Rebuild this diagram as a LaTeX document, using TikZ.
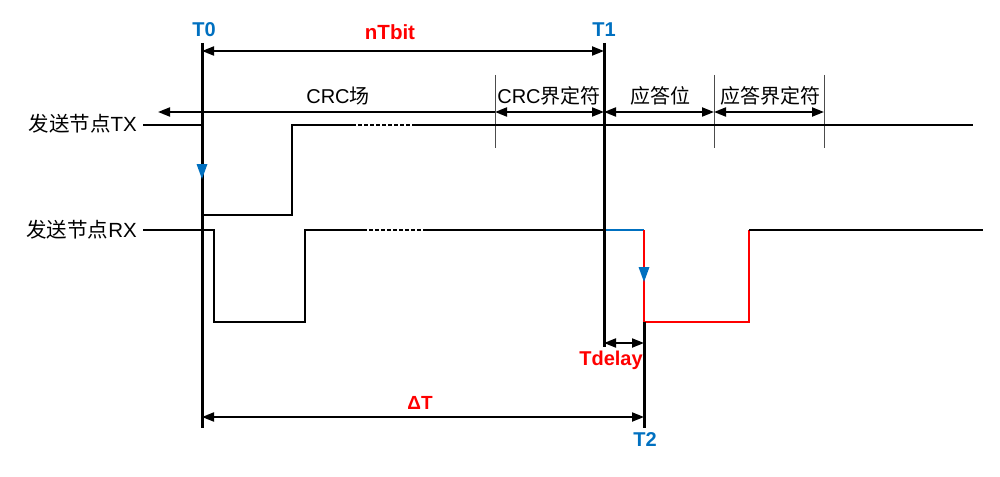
\documentclass[tikz,border=0pt]{standalone}
\usepackage{fontspec}
\setmainfont{Liberation Sans}
\newfontfamily\cjk{Noto Sans CJK SC}
\usetikzlibrary{arrows.meta}
\definecolor{tblue}{RGB}{0,112,192}
\definecolor{tred}{RGB}{255,0,0}
\tikzset{
  sig/.style={line width=2.6pt, line join=miter},
  tline/.style={line width=3pt},
  tick/.style={line width=0.9pt, black!70},
  dim/.style={line width=2pt, {Triangle[length=12pt,width=9pt]}-{Triangle[length=12pt,width=9pt]}},
  ldim/.style={line width=2pt, {Triangle[length=12pt,width=9pt]}-},
  dots/.style={line width=2.6pt, dash pattern=on 3.5pt off 2.5pt},
  seglab/.style={font=\fontsize{20}{22}\selectfont, inner sep=1pt},
  sidelab/.style={font=\fontsize{20.5}{23}\selectfont, inner sep=1pt, anchor=east},
  tlab/.style={font=\bfseries\fontsize{20}{22}\selectfont, text=tblue, inner sep=1pt},
  rlab/.style={font=\bfseries\fontsize{20.5}{22}\selectfont, text=tred, inner sep=1pt},
}
\begin{document}
\begin{tikzpicture}[x=1pt,y=-1pt]
\useasboundingbox (0,0) rectangle (1000,476);
% key coordinates
\coordinate (t0top) at (202,43);
\coordinate (t0bot) at (202,428);
\coordinate (t1top) at (604,43);
\coordinate (t1bot) at (604,347);
\coordinate (t2top) at (644,322);
\coordinate (t2bot) at (644,428);
% labels
\node[tlab] (T0) at (204,30) {T0};
\node[tlab] (T1) at (604,30) {T1};
\node[tlab] (T2) at (645,440) {T2};
\node[rlab] (ntbit) at (390,32) {nTbit};
\node[rlab, font=\bfseries\fontsize{20}{22}\selectfont] (tdelay) at (611,360) {Tdelay};
\node[rlab, font=\bfseries\fontsize{19}{22}\selectfont] (dT) at (420,403) {ΔT};
\node[sidelab] (tx) at (138,124) {{\cjk 发送节点}TX};
\node[sidelab] (rx) at (138,230) {{\cjk 发送节点}RX};
\node[seglab] (crc) at (338,96) {CRC{\cjk 场}};
\node[seglab] (crcd) at (549,96) {CRC{\cjk 界定符}};
\node[seglab] (ack) at (660,96) {\cjk 应答位};
\node[seglab] (ackd) at (770,96) {\cjk 应答界定符};
% ticks
\coordinate (k1t) at (495,75); \coordinate (k1b) at (495,148);
\coordinate (k2t) at (714,75); \coordinate (k2b) at (714,148);
\coordinate (k3t) at (824,75); \coordinate (k3b) at (824,148);
\draw[tick] (k1t) -- (k1b);
\draw[tick] (k2t) -- (k2b);
\draw[tick] (k3t) -- (k3b);
% segment arrows
\coordinate (crcL) at (158,112);
\coordinate (s1) at (495,112);
\coordinate (s2) at (604,112);
\coordinate (s3) at (714,112);
\coordinate (s4) at (824,112);
\draw[ldim] (crcL) -- (s1);
\draw[dim] (s1) -- (s2);
\draw[dim] (s2) -- (s3);
\draw[dim] (s3) -- (s4);
% TX signal
\coordinate (tx0) at (143,125);
\draw[sig] (tx0) -- (202,125) -- (202,215) -- (292,215) -- (292,125) -- (352,125);
\draw[dots] (352,125) -- (412,125);
\draw[sig] (412,125) -- (973,125);
% RX signal
\coordinate (rx0) at (143,230);
\draw[sig] (rx0) -- (214,230) -- (214,322) -- (305,322) -- (305,230) -- (363,230);
\draw[dots] (363,230) -- (425,230);
\draw[sig] (425,230) -- (604,230);
\draw[sig, tblue] (604,230) -- (644,230);
\draw[sig, tred] (644,230) -- (644,322) -- (749,322) -- (749,230);
\draw[sig] (749,230) -- (983,230);
% time lines
\draw[tline] (t0top) -- (t0bot);
\draw[tline] (t1top) -- (t1bot);
\draw[tline] (t2top) -- (t2bot);
% blue arrowheads
\fill[tblue] (196.5,164) -- (207.5,164) -- (202,179) -- cycle;
\fill[tblue] (638.5,267) -- (649.5,267) -- (644,282) -- cycle;
% dimension arrows
\coordinate (n0) at (202,51); \coordinate (n1) at (604,51);
\draw[dim] (n0) -- (n1);
\coordinate (d0) at (604,343); \coordinate (d1) at (644,343);
\draw[dim] (d0) -- (d1);
\coordinate (a0) at (202,417); \coordinate (a1) at (644,417);
\draw[dim] (a0) -- (a1);
\end{tikzpicture}
\end{document}
